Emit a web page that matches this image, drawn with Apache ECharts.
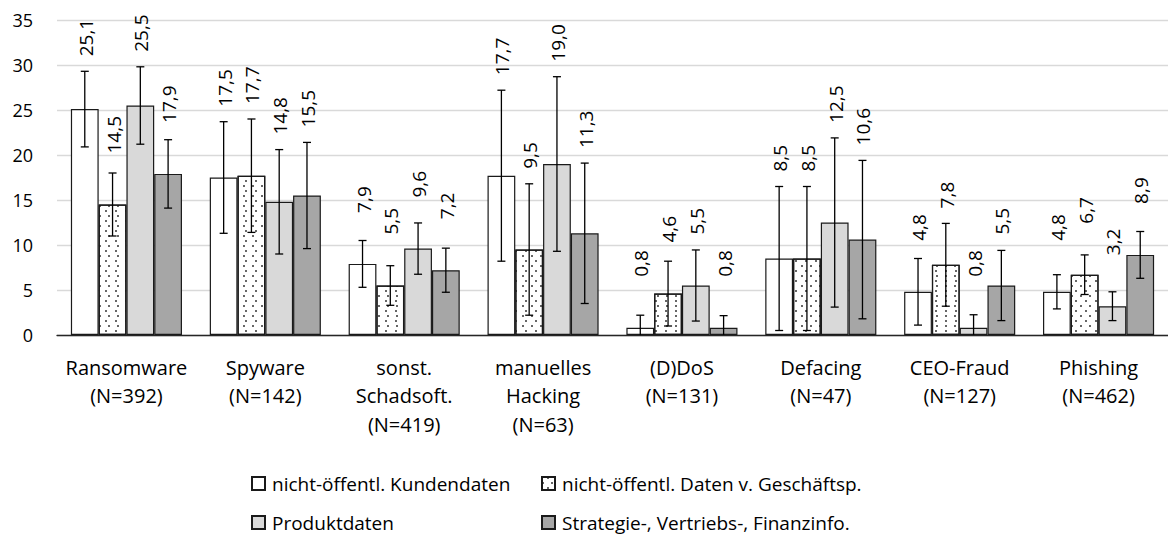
<!DOCTYPE html>
<html><head><meta charset="utf-8">
<script src="https://cdn.jsdelivr.net/npm/echarts@6/dist/echarts.min.js"></script>
<style>html,body{margin:0;padding:0;background:#fff}#c{width:1168px;height:535px}</style>
</head><body><div id="c"></div>
<script>
const categories = ['Ransomware\n(N=392)', 'Spyware\n(N=142)', 'sonst.\nSchadsoft.\n(N=419)', 'manuelles\nHacking\n(N=63)', '(D)DoS\n(N=131)', 'Defacing\n(N=47)', 'CEO-Fraud\n(N=127)', 'Phishing\n(N=462)'];
const seriesNames = ['nicht-öffentl. Kundendaten', 'nicht-öffentl. Daten v. Geschäftsp.', 'Produktdaten', 'Strategie-, Vertriebs-, Finanzinfo.'];
const kundendaten = [25.1, 17.5, 7.9, 17.7, 0.8, 8.5, 4.8, 4.8];
const geschaeftsp = [14.5, 17.7, 5.5, 9.5, 4.6, 8.5, 7.8, 6.7];
const produktdaten = [25.5, 14.8, 9.6, 19.0, 5.5, 12.5, 0.8, 3.2];
const strategie = [17.9, 15.5, 7.2, 11.3, 0.8, 10.6, 5.5, 8.9];
const errKunden = [4.2, 6.2, 2.6, 9.5, 1.4, 8.0, 3.7, 1.9];
const errGesch = [3.5, 6.3, 2.2, 7.3, 3.6, 8.0, 4.6, 2.2];
const errProdukt = [4.3, 5.8, 2.85, 9.7, 3.95, 9.4, 1.45, 1.6];
const errStrategie = [3.8, 5.9, 2.45, 7.8, 1.35, 8.8, 3.9, 2.6];
const yMin = 0, yMax = 35, yStep = 5;

const values = [kundendaten, geschaeftsp, produktdaten, strategie];
const errors = [errKunden, errGesch, errProdukt, errStrategie];
const FONT = 'Open Sans';
const barStyles = [
  {color: '#ffffff', borderColor: '#1a1a1a', borderWidth: 1.2},
  {color: '#ffffff', borderColor: '#1a1a1a', borderWidth: 1.2,
   decal: {symbol: 'rect', symbolSize: 0.8, color: '#000000', backgroundColor: '#ffffff',
           dashArrayX: [[2, 7], [0, 4.5, 2, 2.5]], dashArrayY: [2, 2.5]}},
  {color: '#d9d9d9', borderColor: '#1a1a1a', borderWidth: 1.2},
  {color: '#a6a6a6', borderColor: '#1a1a1a', borderWidth: 1.2}
];
const fmt = v => v.toFixed(1).replace('.', ',');

function makeRender(si) {
  return function (params, api) {
    const cat = api.value(0), v = api.value(1), e = api.value(2);
    const band = api.size([1, 0])[0];
    const bw = band * 0.8 / 4;
    const c = api.coord([cat, v]);
    const x = c[0] + (si - 1.5) * bw;
    const yBar = c[1];
    const yTop = api.coord([cat, v + e])[1];
    const lo = Math.max(0, v - e);
    const yBot = api.coord([cat, lo])[1];
    const cap = 4;
    const ls = {stroke: '#000', lineWidth: 1.3};
    const children = [
      {type: 'line', shape: {x1: x, y1: yTop, x2: x, y2: yBot}, style: ls},
      {type: 'line', shape: {x1: x - cap, y1: yTop, x2: x + cap, y2: yTop}, style: ls}
    ];
    if (v - e > 0) children.push({type: 'line', shape: {x1: x - cap, y1: yBot, x2: x + cap, y2: yBot}, style: ls});
    const labelY = Math.min(yBar - 51, yTop - 15);
    children.push({type: 'text', x: x + 1, y: labelY, rotation: Math.PI / 2,
      style: {text: fmt(v), align: 'left', verticalAlign: 'middle', textAlign: 'left', textVerticalAlign: 'middle',
              fontSize: 19, fontFamily: FONT, fill: '#000'}});
    return {type: 'group', children: children};
  };
}

const series = [];
values.forEach((arr, i) => {
  series.push({name: seriesNames[i], type: 'bar', data: arr, barGap: '0%', barCategoryGap: '20%',
    itemStyle: barStyles[i], emphasis: {disabled: true}, z: 2});
});
values.forEach((arr, i) => {
  series.push({name: 'err' + i, type: 'custom', z: 5, silent: true,
    data: arr.map((v, k) => [k, v, errors[i][k]]),
    encode: {x: 0, y: 1}, renderItem: makeRender(i), clip: false});
});

const legendPos = [[246, 469], [536, 469], [246, 508], [536, 508]];
const chart = echarts.init(document.getElementById('c'), null, {renderer: 'svg'});
chart.setOption({
  animation: false,
  backgroundColor: '#ffffff',
  textStyle: {fontFamily: FONT},
  grid: {left: 57, top: 20, width: 1118, height: 315, containLabel: false},
  xAxis: {type: 'category', data: categories,
    axisLine: {lineStyle: {color: '#262626', width: 1.3}},
    axisTick: {show: false},
    axisLabel: {interval: 0, fontSize: 20, lineHeight: 28.5, margin: 18, color: '#000', fontFamily: FONT}},
  yAxis: {type: 'value', min: yMin, max: yMax, interval: yStep,
    axisLine: {show: false}, axisTick: {show: false},
    splitLine: {lineStyle: {color: '#d9d9d9', width: 1.3}},
    axisLabel: {fontSize: 18, margin: 24, color: '#000', fontFamily: FONT}},
  legend: seriesNames.map((n, i) => ({data: [n], left: legendPos[i][0], top: legendPos[i][1],
    icon: 'rect', itemWidth: 13, itemHeight: 13, itemGap: 0, selectedMode: false,
    textStyle: {fontSize: 19, color: '#000', fontFamily: FONT, padding: [0, 0, 0, 2]}})),
  series: series
});
</script></body></html>
